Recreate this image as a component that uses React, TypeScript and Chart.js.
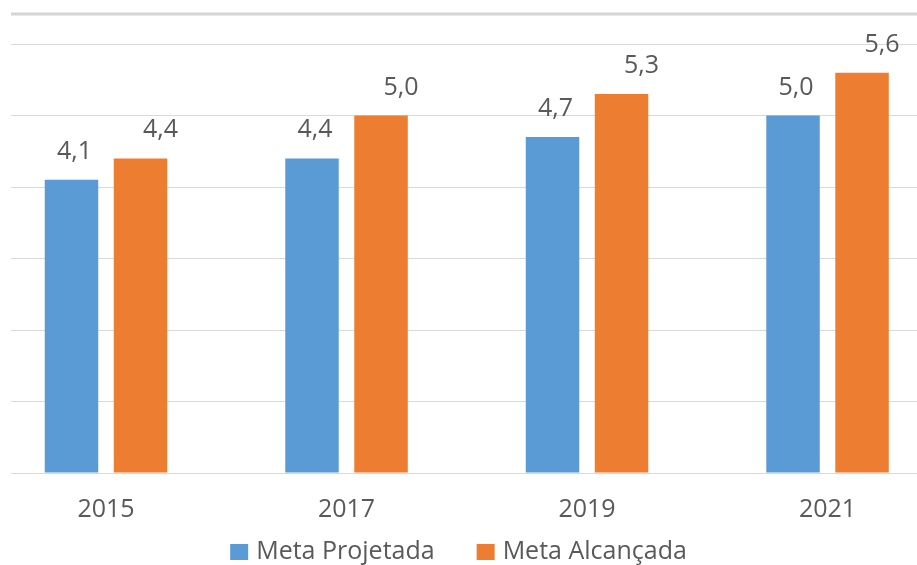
import React, { useEffect, useRef } from "react";
import { Chart, registerables } from "chart.js";

Chart.register(...registerables);

// ---- data ----
const categories = ["2015", "2017", "2019", "2021"];
const metaProjetada = [4.1, 4.4, 4.7, 5.0];
const metaAlcancada = [4.4, 5.0, 5.3, 5.6];
const seriesNames = ["Meta Projetada", "Meta Alcançada"];
const seriesColors = ["#5B9BD5", "#ED7D31"];
const yTickValues = [0, 1, 2, 3, 4, 5, 6];

const FONT = "'Open Sans', sans-serif";
const TEXT_COLOR = "#595959";
const GRID_COLOR = "#d9d9d9";
const FONT_SIZE = 25;
const LABEL_SHIFT = [3, 20];

const fmt = (v: number) => v.toFixed(1).replace(".", ",");

const topBorderPlugin = {
  id: "topBorder",
  beforeDatasetsDraw(chart: any) {
    const { ctx, chartArea } = chart;
    ctx.save();
    ctx.strokeStyle = "#d4d4d4";
    ctx.lineWidth = 3;
    ctx.beginPath();
    ctx.moveTo(chartArea.left, chartArea.top);
    ctx.lineTo(chartArea.right, chartArea.top);
    ctx.stroke();
    ctx.restore();
  },
};

const valueLabelPlugin = {
  id: "valueLabels",
  afterDatasetsDraw(chart: any) {
    const { ctx } = chart;
    ctx.save();
    ctx.font = `${FONT_SIZE}px ${FONT}`;
    ctx.fillStyle = TEXT_COLOR;
    ctx.textAlign = "center";
    ctx.textBaseline = "alphabetic";
    chart.data.datasets.forEach((ds: any, di: number) => {
      const meta = chart.getDatasetMeta(di);
      meta.data.forEach((bar: any, i: number) => {
        const v = ds.data[i].y;
        ctx.fillText(fmt(v), bar.x + LABEL_SHIFT[di], bar.y - 21);
      });
    });
    ctx.restore();
  },
};

const legendPlugin = {
  id: "bottomLegend",
  afterDraw(chart: any) {
    const { ctx } = chart;
    ctx.save();
    ctx.font = `${FONT_SIZE}px ${FONT}`;
    const boxW = 18;
    const boxH = 16;
    const textGap = 8;
    const itemGap = 42;
    const items = chart.data.datasets.map((d: any) => ({
      text: d.label,
      color: d.backgroundColor,
      w: ctx.measureText(d.label).width,
    }));
    const total =
      items.reduce((s: number, it: any) => s + boxW + textGap + it.w, 0) +
      itemGap * (items.length - 1);
    let x = (chart.width - total) / 2;
    const y = chart.height - 13;
    ctx.textBaseline = "middle";
    ctx.textAlign = "left";
    items.forEach((it: any) => {
      ctx.fillStyle = it.color;
      ctx.fillRect(x, y - boxH / 2, boxW, boxH);
      x += boxW + textGap;
      ctx.fillStyle = TEXT_COLOR;
      ctx.fillText(it.text, x, y);
      x += it.w + itemGap;
    });
    ctx.restore();
  },
};

export default function App() {
  const canvasRef = useRef<HTMLCanvasElement | null>(null);

  useEffect(() => {
    if (!canvasRef.current) return;
    const seriesData = [metaProjetada, metaAlcancada];
    const chart = new Chart(canvasRef.current, {
      type: "bar",
      data: {
        datasets: seriesData.map((vals, si) => ({
          label: seriesNames[si],
          data: vals.map((v, i) => ({ x: i, y: v })),
          backgroundColor: seriesColors[si],
          borderWidth: 0,
          categoryPercentage: 0.574,
          barPercentage: 0.775,
        })),
      },
      options: {
        animation: false,
        responsive: true,
        maintainAspectRatio: false,
        layout: { padding: { left: 11, right: 0, top: 14, bottom: 18 } },
        plugins: {
          legend: { display: false },
          tooltip: { enabled: false },
        },
        scales: {
          x: {
            type: "linear",
            min: -0.395,
            max: 3.372,
            offset: false,
            afterBuildTicks: (scale: any) => {
              scale.ticks = categories.map((_, i) => ({ value: i }));
            },
            grid: { display: false, drawTicks: false },
            border: { display: false },
            ticks: {
              padding: 22,
              color: TEXT_COLOR,
              font: { family: FONT, size: FONT_SIZE },
              callback: (v: any) => categories[Number(v)] ?? "",
              maxRotation: 0,
              autoSkip: false,
            },
          },
          y: {
            min: 0,
            max: 6.42,
            afterBuildTicks: (scale: any) => {
              scale.ticks = yTickValues.map((v) => ({ value: v }));
            },
            grid: { color: GRID_COLOR, lineWidth: 1, drawTicks: false },
            border: { display: false },
            ticks: { display: false },
          },
        },
      },
      plugins: [topBorderPlugin, valueLabelPlugin, legendPlugin],
    } as any);
    return () => chart.destroy();
  }, []);

  return (
    <div
      style={{
        position: "fixed",
        left: 0,
        top: 0,
        width: 917,
        height: 565,
        background: "#ffffff",
      }}
    >
      <canvas ref={canvasRef} />
    </div>
  );
}
